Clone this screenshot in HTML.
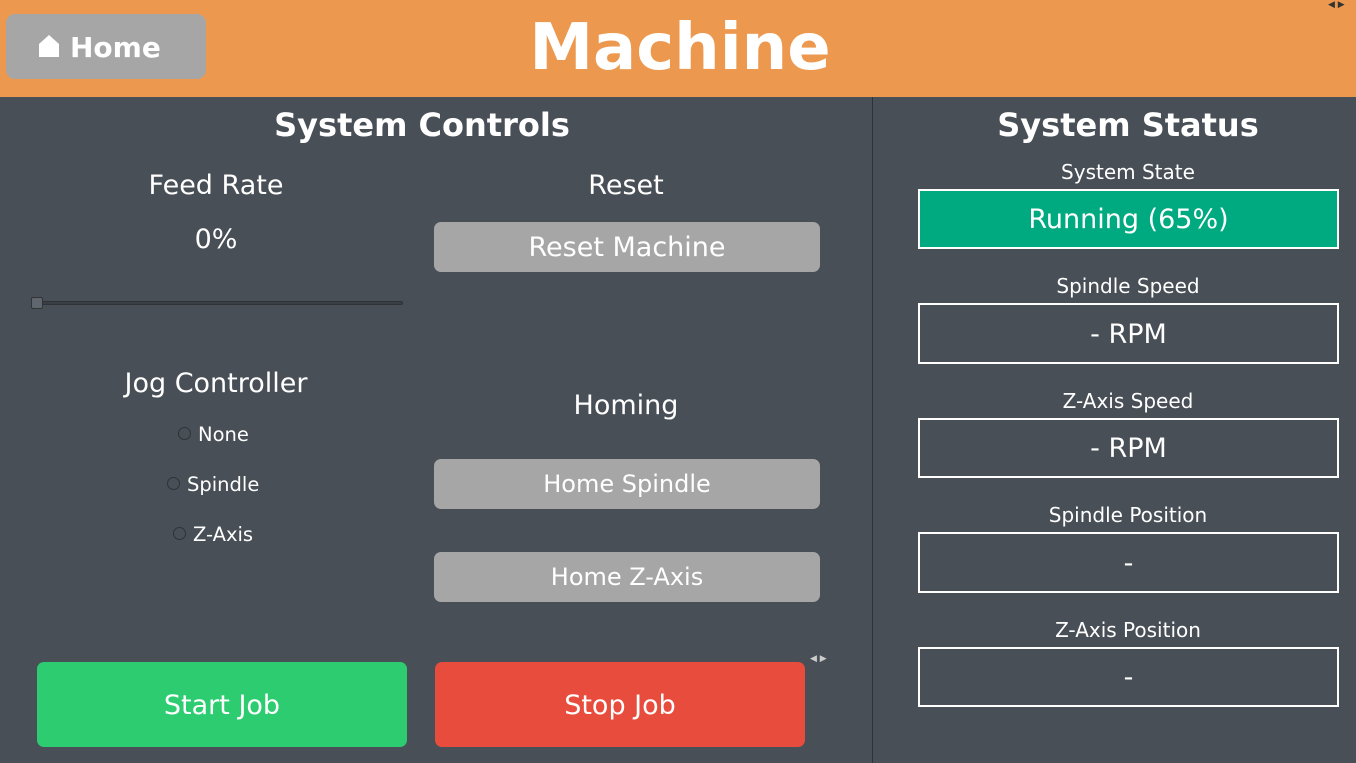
<!DOCTYPE html><html><head><style>
body{margin:0;width:1356px;height:763px;background:#484f56;position:relative;overflow:hidden;font-family:"DejaVu Sans","Liberation Sans",sans-serif;color:#fff}
div{position:absolute;box-sizing:border-box}
.c{text-align:center;white-space:nowrap}
.btn{background:#a6a6a6;border-radius:7px;text-align:center;color:#fff}
.box{border:2px solid #fff;text-align:center;font-size:27px}
.r{width:13px;height:13px;border:1.5px solid #2f3338;border-radius:50%}
</style></head><body>
<div style="left:0;top:0;width:1356px;height:97px;background:#ec994f"></div>
<div class="btn" style="left:6px;top:14px;width:200px;height:65px;border-radius:9px;font-weight:bold;font-size:28px;line-height:67px;padding-left:32px;text-align:left">
<svg width="22" height="26" viewBox="0 0 22 26" style="vertical-align:-2px;margin-right:10px"><path d="M1 11 L11 2 L21 11 L21 24 L1 24 Z" fill="#fff"/></svg>Home</div>
<div class="c" style="left:480px;width:400px;top:7px;line-height:82px;font-size:64px;font-weight:bold">Machine</div>
<div style="left:872px;top:97px;width:1px;height:666px;background:#2f3338"></div>
<div class="c" style="left:22px;width:800px;top:105px;line-height:40px;font-size:32px;font-weight:bold">System Controls</div>
<div class="c" style="left:900px;width:456px;top:105px;line-height:40px;font-size:32px;font-weight:bold">System Status</div>
<div class="c" style="left:16px;width:400px;top:169px;line-height:34px;font-size:27px">Feed Rate</div>
<div class="c" style="left:16px;width:400px;top:223px;line-height:34px;font-size:27px">0%</div>
<div style="left:36px;top:301px;width:367px;height:4px;background:#3a3f44;border:1px solid #2f3338;border-radius:2px"></div>
<div style="left:31px;top:297px;width:12px;height:12px;background:#5f666d;border:1px solid #333;border-radius:2px"></div>
<div class="c" style="left:426px;width:400px;top:169px;line-height:34px;font-size:27px">Reset</div>
<div class="btn" style="left:434px;top:222px;width:386px;height:50px;line-height:51px;font-size:27px">Reset Machine</div>
<div class="c" style="left:16px;width:400px;top:367px;line-height:34px;font-size:27px">Jog Controller</div>
<div class="r" style="left:178px;top:427px"></div><div style="left:198px;top:423px;font-size:19.5px;line-height:24px">None</div>
<div class="r" style="left:167px;top:477px"></div><div style="left:187px;top:473px;font-size:19.5px;line-height:24px">Spindle</div>
<div class="r" style="left:173px;top:527px"></div><div style="left:193px;top:523px;font-size:19.5px;line-height:24px">Z-Axis</div>
<div class="c" style="left:426px;width:400px;top:389px;line-height:34px;font-size:27px">Homing</div>
<div class="btn" style="left:434px;top:459px;width:386px;height:50px;line-height:51px;font-size:24px">Home Spindle</div>
<div class="btn" style="left:434px;top:552px;width:386px;height:50px;line-height:51px;font-size:24px">Home Z-Axis</div>
<div class="btn" style="left:37px;top:662px;width:370px;height:85px;line-height:87px;font-size:27px;background:#2ecc71">Start Job</div>
<div class="btn" style="left:435px;top:662px;width:370px;height:85px;line-height:87px;font-size:27px;background:#e74c3c">Stop Job</div>
<div style="left:810px;top:654px;font-size:9px;color:#ccc">◀ ▶</div>
<div style="left:1328px;top:0px;font-size:9px;color:#333">◀ ▶</div>
<div class="c" style="left:918px;width:420px;top:160px;line-height:24px;font-size:20px">System State</div>
<div class="box" style="left:918px;top:189px;width:421px;height:60px;line-height:58px;background:#00aa80">Running (65%)</div>
<div class="c" style="left:918px;width:420px;top:274px;line-height:24px;font-size:20px">Spindle Speed</div>
<div class="box" style="left:918px;top:303px;width:421px;height:61px;line-height:59px">- RPM</div>
<div class="c" style="left:918px;width:420px;top:389px;line-height:24px;font-size:20px">Z-Axis Speed</div>
<div class="box" style="left:918px;top:418px;width:421px;height:60px;line-height:58px">- RPM</div>
<div class="c" style="left:918px;width:420px;top:503px;line-height:24px;font-size:20px">Spindle Position</div>
<div class="box" style="left:918px;top:532px;width:421px;height:61px;line-height:59px">-</div>
<div class="c" style="left:918px;width:420px;top:618px;line-height:24px;font-size:20px">Z-Axis Position</div>
<div class="box" style="left:918px;top:647px;width:421px;height:60px;line-height:58px">-</div>
</body></html>
